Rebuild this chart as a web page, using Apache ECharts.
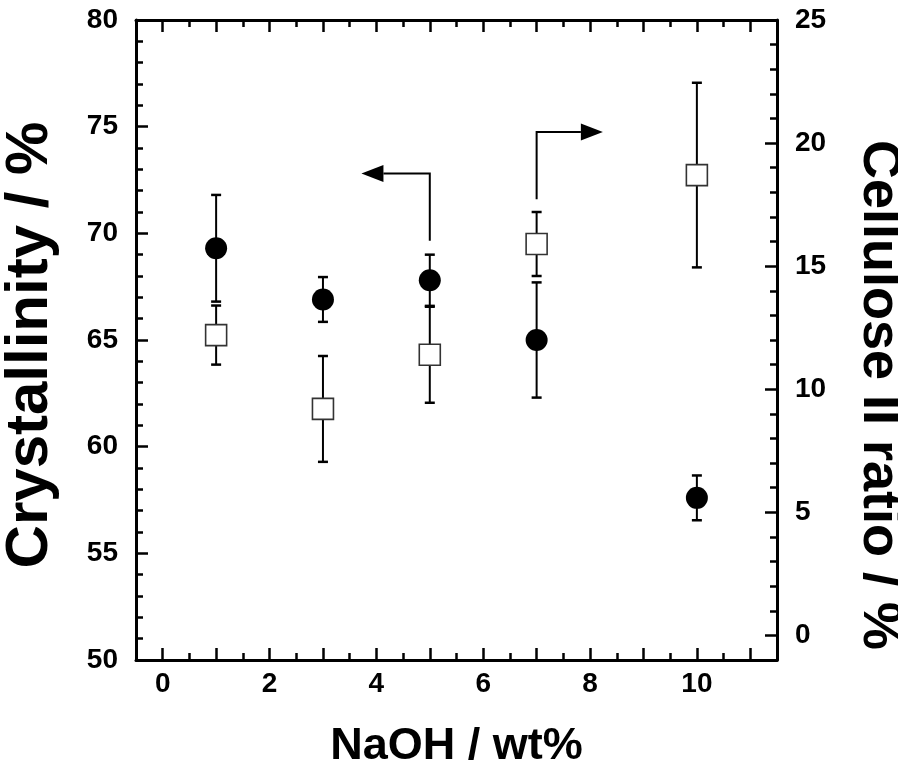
<!DOCTYPE html>
<html>
<head>
<meta charset="utf-8">
<script src="https://cdn.jsdelivr.net/npm/echarts@6/dist/echarts.min.js"></script>
<style>
  html, body { margin: 0; padding: 0; background: #fff; }
  #main { width: 898px; height: 782px; }
</style>
</head>
<body>
<div id="main"></div>
<script>
// NaOH concentration (wt%)
const naoh = [1, 3, 5, 7, 10];
// crystallinity (left axis) and its error
const crystallinity = [69.3, 66.9, 67.8, 65.0, 57.6];
const crystallinityErr = [2.5, 1.05, 1.2, 2.7, 1.05];
// cellulose II ratio (right axis) and its error
const cellulose2 = [12.2, 9.2, 11.4, 15.9, 18.7];
const cellulose2Err = [1.2, 2.15, 1.95, 1.3, 3.75];

// tick positions
const xMajorTicks = [0, 1, 2, 3, 4, 5, 6, 7, 8, 9, 10, 11];
const xMinorTicks = [0.5, 1.5, 2.5, 3.5, 4.5, 5.5, 6.5, 7.5, 8.5, 9.5, 10.5, 11.5];
const xLabels = [0, 2, 4, 6, 8, 10];
const rightMajor = [0, 5, 10, 15, 20, 25];
const rightMinor = [0, 1, 2, 3, 4, 5, 6, 7, 8, 9, 10, 11, 12, 13, 14, 15, 16, 17, 18, 19, 20, 21, 22, 23, 24, 25];

// arrows, in (NaOH, crystallinity) units: start, corner, tip
const arrowLeft = [5, 69.65, 5, 72.8, 3.72, 72.8];
const arrowRight = [7, 71.6, 7, 74.75, 8.24, 74.75];

const FONT = "'Liberation Sans', Arial, sans-serif";
const black = "#000";

function errData(xs, ys, es) {
  return xs.map((x, i) => [x, ys[i] - es[i], ys[i] + es[i]]);
}

function renderErr(params, api) {
  const top = api.coord([api.value(0), api.value(2)]);
  const bot = api.coord([api.value(0), api.value(1)]);
  const w = 5;
  const st = { stroke: black, lineWidth: 2 };
  return {
    type: "group",
    children: [
      { type: "line", shape: { x1: top[0], y1: top[1], x2: bot[0], y2: bot[1] }, style: st },
      { type: "line", shape: { x1: top[0] - w, y1: top[1], x2: top[0] + w, y2: top[1] }, style: { stroke: black, lineWidth: 2.5 } },
      { type: "line", shape: { x1: bot[0] - w, y1: bot[1], x2: bot[0] + w, y2: bot[1] }, style: { stroke: black, lineWidth: 2.5 } }
    ]
  };
}

function renderArrow(params, api) {
  const p0 = api.coord([api.value(0), api.value(1)]);
  const p1 = api.coord([api.value(2), api.value(3)]);
  const tip = api.coord([api.value(4), api.value(5)]);
  const dir = tip[0] > p1[0] ? 1 : -1;
  const len = 22, half = 8.5;
  const base = tip[0] - dir * len;
  return {
    type: "group",
    children: [
      { type: "polyline", shape: { points: [p0, p1, [base, tip[1]]] }, style: { stroke: black, lineWidth: 2, fill: null } },
      { type: "polygon", shape: { points: [tip, [base, tip[1] - half], [base, tip[1] + half]] }, style: { fill: black } }
    ]
  };
}

const tickLabel = { fontFamily: FONT, fontWeight: "bold", fontSize: 28, color: black };
function title(size) {
  return { fontFamily: FONT, fontWeight: "bold", fontSize: size, color: black };
}
const line3 = { show: true, onZero: false, lineStyle: { color: black, width: 3 } };
const noLine = { show: false, onZero: false };

function xAx(position, major, withLabels) {
  return {
    type: "value", position: position, min: -0.5, max: 11.5,
    axisLine: major ? line3 : noLine,
    axisTick: { show: true, inside: true, length: major ? 12 : 7, customValues: major ? xMajorTicks : xMinorTicks,
      lineStyle: { color: black, width: 2.5 } },
    axisLabel: withLabels ? Object.assign({ customValues: xLabels, margin: 10 }, tickLabel) : { show: false },
    splitLine: { show: false }
  };
}

const option = {
  animation: false,
  backgroundColor: "#fff",
  grid: { left: 136, right: 121, top: 20, bottom: 122, containLabel: false, outerBoundsMode: "none" },
  xAxis: [
    Object.assign(xAx("bottom", true, true), {
      name: "NaOH / wt%", nameLocation: "middle", nameGap: 64, nameTextStyle: title(45)
    }),
    xAx("bottom", false, false),
    xAx("top", true, false),
    xAx("top", false, false)
  ],
  yAxis: [
    {
      type: "value", position: "left", min: 50, max: 80, interval: 5,
      name: "Crystallinity / %", nameLocation: "middle", nameGap: 76,
      nameTextStyle: Object.assign(title(60), { padding: [0, 10, 0, 0] }),
      axisLine: line3,
      axisTick: { show: true, inside: true, length: 12, lineStyle: { color: black, width: 2.5 } },
      minorTick: { show: true, splitNumber: 5, length: 7, lineStyle: { color: black, width: 2.5 } },
      axisLabel: Object.assign({ margin: 18 }, tickLabel),
      splitLine: { show: false }
    },
    {
      type: "value", position: "right", min: -1, max: 25,
      name: "Cellulose II ratio / %", nameLocation: "middle", nameGap: 75, nameRotate: -90,
      nameTextStyle: Object.assign(title(54), { padding: [0, 0, 0, 110] }),
      axisLine: line3,
      axisTick: { show: true, inside: true, length: 12, customValues: rightMajor, lineStyle: { color: black, width: 2.5 } },
      axisLabel: Object.assign({ margin: 18, customValues: rightMajor }, tickLabel),
      splitLine: { show: false }
    },
    {
      type: "value", position: "right", min: -1, max: 25,
      axisLine: noLine,
      axisTick: { show: true, inside: true, length: 7, customValues: rightMinor, lineStyle: { color: black, width: 2.5 } },
      axisLabel: { show: false },
      splitLine: { show: false }
    }
  ],
  series: [
    {
      type: "custom", name: "crystErr", xAxisIndex: 0, yAxisIndex: 0, z: 2,
      renderItem: renderErr, data: errData(naoh, crystallinity, crystallinityErr)
    },
    {
      type: "custom", name: "cell2Err", xAxisIndex: 0, yAxisIndex: 1, z: 2,
      renderItem: renderErr, data: errData(naoh, cellulose2, cellulose2Err)
    },
    {
      type: "scatter", name: "Cellulose II", xAxisIndex: 0, yAxisIndex: 1, z: 3,
      symbol: "rect", symbolSize: 21,
      itemStyle: { color: "#fff", borderColor: "#333", borderWidth: 1.6, opacity: 1 },
      data: naoh.map((x, i) => [x, cellulose2[i]])
    },
    {
      type: "scatter", name: "Crystallinity", xAxisIndex: 0, yAxisIndex: 0, z: 4,
      symbol: "circle", symbolSize: 22,
      itemStyle: { color: black, opacity: 1 },
      data: naoh.map((x, i) => [x, crystallinity[i]])
    },
    {
      type: "custom", name: "arrows", xAxisIndex: 0, yAxisIndex: 0, z: 5,
      renderItem: renderArrow, data: [arrowLeft, arrowRight]
    }
  ]
};

const chart = echarts.init(document.getElementById("main"), null, { renderer: "canvas" });
chart.setOption(option);
</script>
</body>
</html>
